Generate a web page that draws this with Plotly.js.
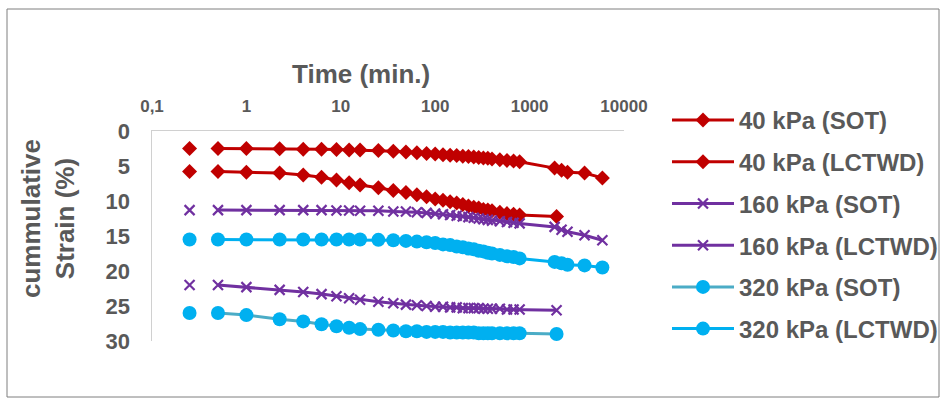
<!DOCTYPE html>
<html>
<head>
<meta charset="utf-8">
<script src="https://cdn.plot.ly/plotly-3.0.1.min.js"></script>
<style>
  html, body { margin: 0; padding: 0; background: #ffffff; }
  #chart { width: 943px; height: 401px; }
</style>
</head>
<body>
<div id="chart"></div>
<script>
// Elapsed time (min) of each reading
var timeShort = [0.25, 0.5, 1, 2.25, 4, 6.25, 9, 12.25, 16, 25, 36, 49, 64, 81, 100, 121, 144, 169, 196, 225, 256, 289, 324, 361, 400, 484, 576, 676, 784, 1930];
var timeLong  = [0.25, 0.5, 1, 2.25, 4, 6.25, 9, 12.25, 16, 25, 36, 49, 64, 81, 100, 121, 144, 169, 196, 225, 256, 289, 324, 361, 400, 484, 576, 676, 784, 1840, 2180, 2520, 3820, 5900];

// Cumulative strain (%)
var strain40SOT    = [5.8, 5.8, 5.9, 6.0, 6.3, 6.6, 7.0, 7.4, 7.7, 8.1, 8.5, 8.8, 9.1, 9.4, 9.7, 9.9, 10.1, 10.3, 10.5, 10.7, 10.9, 11.0, 11.2, 11.3, 11.4, 11.6, 11.8, 11.9, 12.0, 12.2];
var strain40LCTWD  = [2.5, 2.5, 2.5, 2.55, 2.6, 2.6, 2.65, 2.7, 2.7, 2.8, 2.9, 3.0, 3.1, 3.2, 3.3, 3.4, 3.45, 3.5, 3.6, 3.65, 3.7, 3.8, 3.85, 3.9, 4.0, 4.1, 4.2, 4.3, 4.4, 5.3, 5.6, 5.9, 6.0, 6.7];
var strain160SOT   = [22.0, 22.0, 22.3, 22.7, 23.0, 23.3, 23.6, 23.9, 24.1, 24.4, 24.6, 24.8, 24.9, 25.0, 25.1, 25.1, 25.2, 25.2, 25.3, 25.3, 25.3, 25.3, 25.4, 25.4, 25.4, 25.4, 25.5, 25.5, 25.5, 25.6];
var strain160LCTWD = [11.3, 11.3, 11.3, 11.3, 11.3, 11.3, 11.35, 11.35, 11.4, 11.4, 11.5, 11.5, 11.6, 11.7, 11.8, 11.9, 12.0, 12.1, 12.2, 12.3, 12.4, 12.5, 12.6, 12.7, 12.8, 12.9, 13.0, 13.1, 13.2, 13.7, 14.1, 14.4, 14.9, 15.6];
var strain320SOT   = [26.0, 26.0, 26.3, 26.9, 27.2, 27.6, 27.9, 28.1, 28.3, 28.4, 28.5, 28.6, 28.6, 28.7, 28.7, 28.7, 28.8, 28.8, 28.8, 28.8, 28.8, 28.9, 28.9, 28.9, 28.9, 28.9, 28.9, 28.9, 28.9, 29.0];
var strain320LCTWD = [15.5, 15.5, 15.5, 15.5, 15.5, 15.5, 15.5, 15.5, 15.5, 15.55, 15.6, 15.7, 15.8, 15.9, 16.0, 16.2, 16.3, 16.5, 16.6, 16.8, 16.9, 17.1, 17.2, 17.4, 17.5, 17.7, 17.9, 18.0, 18.2, 18.7, 18.9, 19.1, 19.2, 19.5];

var xTickVals = [0.1, 1, 10, 100, 1000, 10000];
var xTickText = ['0,1', '1', '10', '100', '1000', '10000'];
var yTickVals = [0, 5, 10, 15, 20, 25, 30];

// The first reading is logged apart from the rest: leave a break after it.
function withBreak(arr) {
  return [arr[0], null].concat(arr.slice(1));
}

function series(name, t, s, symbol, lineColor, markerColor, size, group) {
  var marker = { symbol: symbol, size: size, color: markerColor };
  if (symbol === 'x-thin-open') {
    marker.line = { color: markerColor, width: 2.2 };
  }
  return {
    type: 'scatter',
    mode: 'lines+markers',
    name: name,
    legendgroup: group,
    x: withBreak(t),
    y: withBreak(s),
    connectgaps: false,
    line: { color: lineColor, width: 3 },
    marker: marker,
    cliponaxis: false
  };
}

var red = '#C00000', purple = '#7030A0', cyan = '#00B0F0', teal = '#4BACC6';

var traces = [
  series('40 kPa (SOT)', timeShort, strain40SOT, 'diamond', red, red, 11.5, 'a'),
  series('40 kPa (LCTWD)', timeLong, strain40LCTWD, 'diamond', red, red, 11.5, 'b'),
  series('160 kPa (SOT)', timeShort, strain160SOT, 'x-thin-open', purple, purple, 10, 'c'),
  series('160 kPa (LCTWD)', timeLong, strain160LCTWD, 'x-thin-open', purple, purple, 10, 'd'),
  series('320 kPa (SOT)', timeShort, strain320SOT, 'circle', teal, cyan, 14, 'e'),
  series('320 kPa (LCTWD)', timeLong, strain320LCTWD, 'circle', cyan, cyan, 14, 'f')
];

var textGray = '#595959';
var bold = { family: 'Liberation Sans, Arial, sans-serif', weight: 'bold', color: textGray };

var layout = {
  width: 943,
  height: 401,
  margin: { l: 152, r: 319, t: 131, b: 60, autoexpand: false },
  paper_bgcolor: '#ffffff',
  plot_bgcolor: '#ffffff',
  showlegend: true,
  xaxis: {
    type: 'log',
    side: 'top',
    range: [-1, 4],
    tickvals: xTickVals,
    ticktext: xTickText,
    ticks: '',
    showgrid: false,
    zeroline: false,
    showline: true,
    linecolor: '#D0D0D0',
    linewidth: 1.5,
    tickfont: Object.assign({ size: 17 }, bold),
    ticklabelstandoff: 11
  },
  yaxis: {
    range: [30, 0],
    tickvals: yTickVals,
    ticks: '',
    showgrid: false,
    zeroline: false,
    showline: true,
    linecolor: '#D0D0D0',
    linewidth: 1.5,
    tickfont: Object.assign({ size: 22 }, bold),
    ticklabelstandoff: 16
  },
  legend: {
    x: (667 - 152) / 472,
    xanchor: 'left',
    y: (341 - 98) / 210,
    yanchor: 'top',
    maxheight: 300,
    itemwidth: 62,
    tracegroupgap: 7.5,
    bgcolor: 'rgba(0,0,0,0)',
    font: Object.assign({ size: 24 }, bold)
  },
  annotations: [
    {
      text: 'Time (min.)',
      xref: 'paper', yref: 'paper',
      x: (361 - 152) / 472, y: (341 - 74) / 210,
      xanchor: 'center', yanchor: 'middle',
      showarrow: false,
      font: Object.assign({ size: 26 }, bold)
    },
    {
      text: 'cummulative<br>Strain (%)',
      xref: 'paper', yref: 'paper',
      x: (48 - 152) / 472, y: (341 - 219) / 210,
      xanchor: 'center', yanchor: 'middle',
      textangle: -90,
      showarrow: false,
      font: Object.assign({ size: 26 }, bold)
    }
  ],
  shapes: [
    {
      type: 'rect', xref: 'paper', yref: 'paper',
      x0: (7 - 152) / 472, x1: (939 - 152) / 472,
      y0: (341 - 397) / 210, y1: (341 - 9) / 210,
      line: { color: '#7F7F7F', width: 1 },
      fillcolor: 'rgba(0,0,0,0)',
      layer: 'below'
    }
  ]
};

Plotly.newPlot('chart', traces, layout, { staticPlot: true, displayModeBar: false });
</script>
</body>
</html>
